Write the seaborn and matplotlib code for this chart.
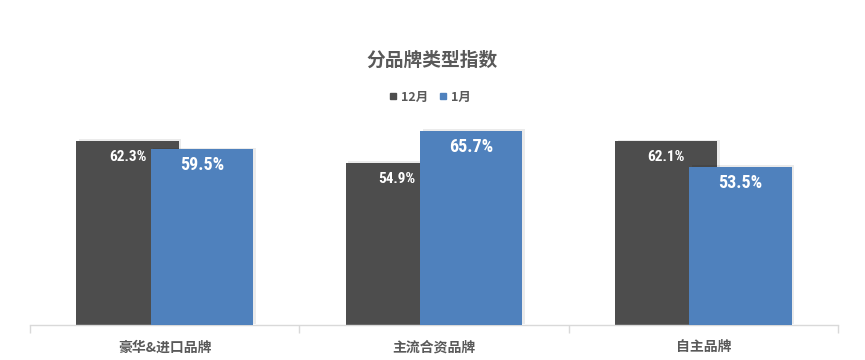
import matplotlib
matplotlib.use("Agg")
import matplotlib.pyplot as plt
import matplotlib.patheffects as pe
from matplotlib.lines import Line2D
from matplotlib import font_manager
import pandas as pd
import seaborn as sns

# data
categories = ["豪华&进口品牌", "主流合资品牌", "自主品牌"]
months = ["12月", "1月"]
dec_values = [62.3, 54.9, 62.1]
jan_values = [59.5, 65.7, 53.5]
colors = ["#4D4D4D", "#4F81BD"]

df = pd.DataFrame({
    "category": categories * 2,
    "month": [months[0]] * 3 + [months[1]] * 3,
    "value": dec_values + jan_values,
})

sns.set_style("white")
plt.rcParams["font.family"] = ["Noto Sans CJK SC", "DejaVu Sans"]
text_grey = "#595959"

# narrow font for the value labels, if one is there
names = {f.name for f in font_manager.fontManager.ttflist}
narrow = [n for n in ["Liberation Sans Narrow", "Roboto Condensed", "DejaVu Sans Condensed"] if n in names]
condensed_dejavu = any(f.name == "DejaVu Sans" and f.stretch == "condensed" for f in font_manager.fontManager.ttflist)
print(narrow, condensed_dejavu)
if narrow:
    label_font = dict(family=[narrow[0], "DejaVu Sans"])
elif condensed_dejavu:
    label_font = dict(family=["DejaVu Sans"], fontstretch="condensed")
else:
    label_font = dict(family=["Liberation Sans", "DejaVu Sans"])

fig = plt.figure(figsize=(8.65, 3.6), dpi=100)
ax = fig.add_axes([30 / 865, 35 / 360, 808 / 865, 207 / 360])

sns.barplot(data=df, x="category", y="value", hue="month", order=categories,
            hue_order=months, palette=colors, width=0.552, saturation=1,
            errorbar=None, legend=False, ax=ax)

# widen bars so the 1月 bar overlaps the 12月 bar (Excel-style overlap)
bar_w = 0.38
shadow = [pe.SimplePatchShadow(offset=(2, 1), shadow_rgbFace="#000000", alpha=0.08), pe.Normal()]
for i, container in enumerate(ax.containers):
    for patch in container:
        cx = patch.get_x() + patch.get_width() / 2
        patch.set_width(bar_w)
        patch.set_x(cx - bar_w / 2)
        patch.set_linewidth(0)
        patch.set_zorder(2 + i)
        patch.set_path_effects(shadow)

# value labels inside the top of each bar
label_sizes = [11, 13]
for i, container in enumerate(ax.containers):
    for patch, v in zip(container, [dec_values, jan_values][i]):
        ax.annotate(f"{v:.1f}%", (patch.get_x() + patch.get_width() / 2, patch.get_height()),
                    xytext=(0, -11.5), textcoords="offset points", ha="center", va="center",
                    color="white", fontsize=label_sizes[i], fontweight="bold",
                    zorder=10, **label_font)

ax.set_ylim(0, 70)
ax.set_xlim(-0.5, 2.5)
ax.set_xlabel("")
ax.set_ylabel("")
ax.set_yticks([])
for s in ["top", "right", "left"]:
    ax.spines[s].set_visible(False)
ax.spines["bottom"].set_color("#D9D9D9")
ax.spines["bottom"].set_linewidth(1)

ax.set_xticks([-0.5, 0.5, 1.5, 2.5], minor=True)
ax.tick_params(axis="x", which="minor", bottom=True, length=6, color="#D9D9D9", width=1, direction="out")
ax.tick_params(axis="x", which="major", length=0, pad=11, labelsize=10, labelcolor=text_grey)
for lbl in ax.get_xticklabels():
    lbl.set_fontweight("bold")

fig.text(0.5, 300 / 360, "分品牌类型指数", ha="center", va="center",
         fontsize=13.5, fontweight="bold", color=text_grey)

handles = [Line2D([], [], marker="s", linestyle="", markersize=5, color=c) for c in colors]
fig.legend(handles, months, loc="center", bbox_to_anchor=(430 / 865, 263 / 360), ncol=2,
           frameon=False, handlelength=0.6, handletextpad=0.3, columnspacing=0.9,
           prop={"size": 9, "weight": "bold"}, labelcolor=text_grey)

fig.savefig("out.png", dpi=100)
